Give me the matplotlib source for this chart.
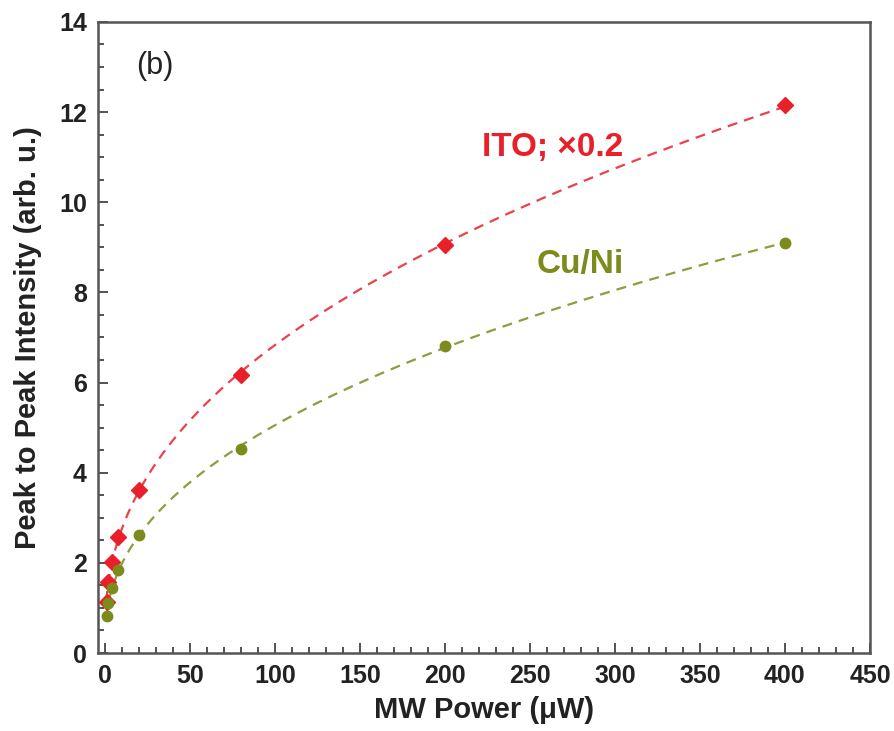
import numpy as np
import matplotlib
matplotlib.use("Agg")
import matplotlib.pyplot as plt
from matplotlib.ticker import MultipleLocator

plt.rcParams['font.family'] = ['Liberation Sans', 'DejaVu Sans']

# MW power (uW)
power = [1, 2, 4, 8, 20, 80, 200, 400]

# Peak to peak intensity
ito = [1.14, 1.58, 2.02, 2.57, 3.62, 6.17, 9.05, 12.16]    # ITO, scaled x0.2
cuni = [0.81, 1.10, 1.44, 1.84, 2.62, 4.53, 6.81, 9.10]    # Cu/Ni

red = '#e8202a'
olive = '#7d8a1c'


def fit_curve(x, y, xf):
    # y = a + b * x^c, c picked by least squares over a grid
    x = np.asarray(x, float)
    y = np.asarray(y, float)
    best = None
    for c in np.linspace(0.2, 0.8, 121):
        A = np.column_stack([np.ones_like(x), x ** c])
        coef, res, *_ = np.linalg.lstsq(A, y, rcond=None)
        err = np.sum((A @ coef - y) ** 2)
        if best is None or err < best[0]:
            best = (err, c, coef)
    _, c, (a, b) = best
    return a + b * xf ** c


fig = plt.figure(figsize=(8.95, 7.31), dpi=100)
ax = fig.add_axes([0.1095, 0.1067, 0.8625, 0.8633])

xf = np.linspace(0.8, 400, 400)
for y, c in [(ito, red), (cuni, olive)]:
    ax.plot(xf, fit_curve(power, y, xf), color=c, lw=1.6, dashes=(4.5, 3.2), alpha=0.85, zorder=2)

ax.plot(power, ito, 'D', color=red, ms=8, zorder=3)
ax.plot(power, cuni, 'o', color=olive, ms=7.5, zorder=3)

ax.text(305, 11.22, "ITO; ×0.2", color=red, fontsize=24, fontweight='bold', ha='right', va='center')
ax.text(305, 8.62, "Cu/Ni", color=olive, fontsize=24, fontweight='bold', ha='right', va='center')
ax.text(0.05, 0.93, "(b)", transform=ax.transAxes, fontsize=22, color='#222222', va='center')

ax.set_xlim(-4, 450)
ax.set_ylim(0, 14)
ax.xaxis.set_major_locator(MultipleLocator(50))
ax.xaxis.set_minor_locator(MultipleLocator(10))
ax.yaxis.set_major_locator(MultipleLocator(2))
ax.yaxis.set_minor_locator(MultipleLocator(0.5))
ax.tick_params(which='both', direction='in', top=False, right=False, color='#444444', width=1.3)
ax.tick_params(which='major', length=7, labelsize=18, labelcolor='#222222', pad=8)
ax.tick_params(which='minor', length=4)
for lab in ax.get_xticklabels() + ax.get_yticklabels():
    lab.set_fontweight('bold')
for s in ax.spines.values():
    s.set_linewidth(1.8)
    s.set_color('#555555')

ax.set_xlabel("MW Power (μW)", fontsize=21, fontweight='bold', color='#222222', labelpad=6)
ax.set_ylabel("Peak to Peak Intensity (arb. u.)", fontsize=21, fontweight='bold', color='#222222', labelpad=12)

fig.savefig("out.png", dpi=100)
